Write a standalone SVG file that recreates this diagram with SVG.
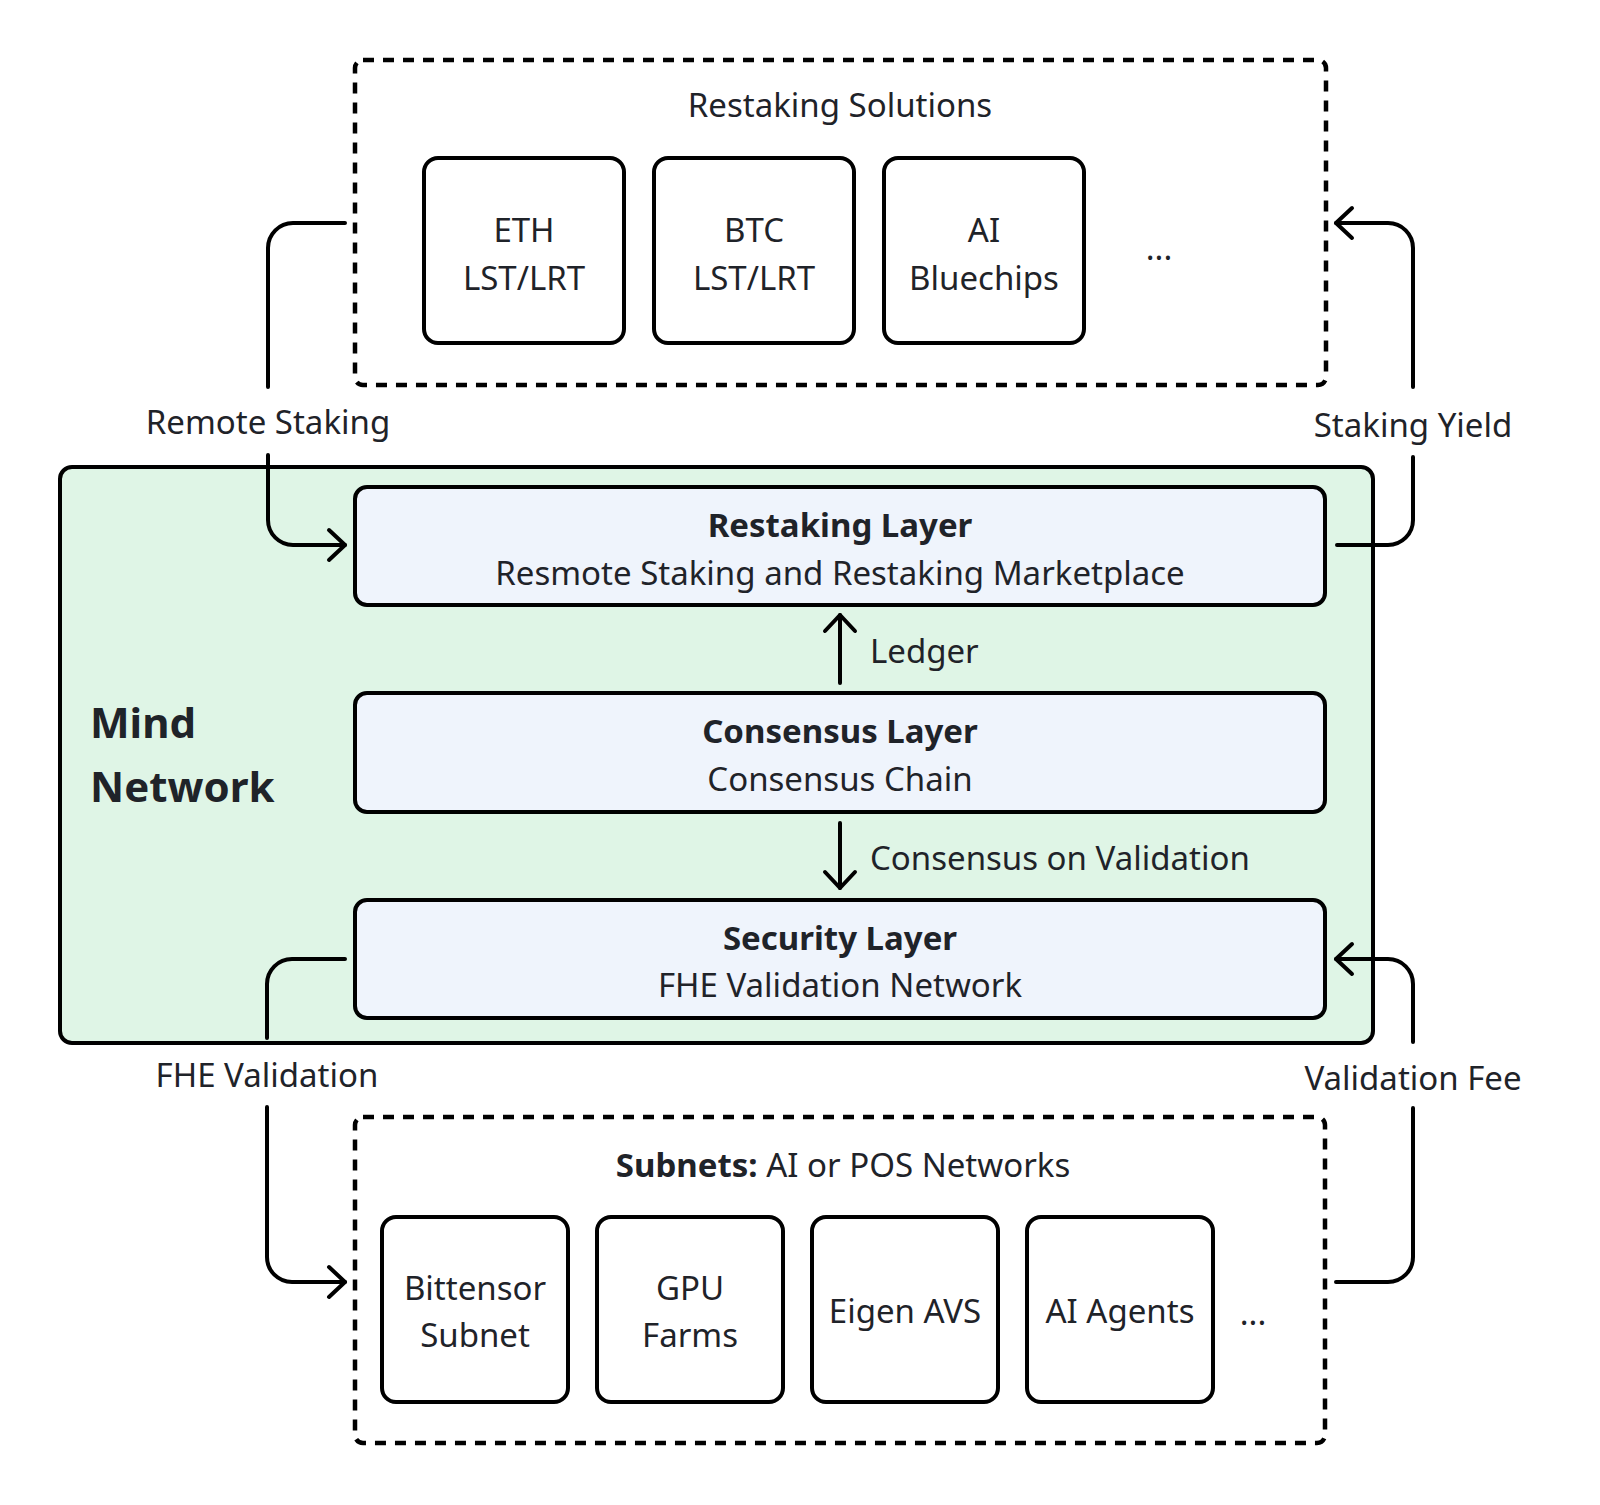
<svg xmlns="http://www.w3.org/2000/svg" width="1600" height="1505" viewBox="0 0 1600 1505">
<defs>
<style>
.t{font-family:"Noto Sans","Open Sans","DejaVu Sans",sans-serif;font-size:33px;fill:#1f2329}
.c{text-anchor:middle}
.b{font-weight:bold}
.box{fill:#ffffff;stroke:#000;stroke-width:4}
.dash{fill:none;stroke:#000;stroke-width:4.5;stroke-dasharray:11 9}
.layer{fill:#eff4fc;stroke:#000;stroke-width:4}
.main{fill:#dff5e6;stroke:#000;stroke-width:4}
.conn{fill:none;stroke:#000;stroke-width:4;stroke-linecap:round;stroke-linejoin:round}
</style>
<marker id="ah" markerUnits="userSpaceOnUse" viewBox="-20 -20 24 40" refX="0" refY="0" markerWidth="24" markerHeight="40" orient="auto">
<path d="M-16,-15 L0,0 L-16,15" fill="none" stroke="#000" stroke-width="4" stroke-linecap="round" stroke-linejoin="round"/>
</marker>
</defs>
<rect width="1600" height="1505" fill="#ffffff"/>

<g id="restaking-solutions">
<rect class="dash" x="355" y="60" width="971" height="325" rx="8"/>
<text class="t c" x="840" y="117">Restaking Solutions</text>
</g>
<g id="eth">
<rect class="box" x="424" y="158" width="200" height="185" rx="14"/>
<text class="t c" x="524" y="242">ETH</text>
<text class="t c" x="524" y="290">LST/LRT</text>
</g>
<g id="btc">
<rect class="box" x="654" y="158" width="200" height="185" rx="14"/>
<text class="t c" x="754" y="242">BTC</text>
<text class="t c" x="754" y="290">LST/LRT</text>
</g>
<g id="ai-bluechips">
<rect class="box" x="884" y="158" width="200" height="185" rx="14"/>
<text class="t c" x="984" y="242">AI</text>
<text class="t c" x="984" y="290">Bluechips</text>
</g>
<g id="top-more">
<text class="t c" x="1159" y="260">...</text>
</g>

<g id="mind-network">
<rect class="main" x="60" y="467" width="1313" height="576" rx="12"/>
<text class="t b" x="90" y="738" style="font-size:42px">Mind</text>
<text class="t b" x="90" y="802" style="font-size:42px">Network</text>
</g>
<g id="restaking-layer">
<rect class="layer" x="355" y="487" width="970" height="118" rx="12"/>
<text class="t c b" x="840" y="537">Restaking Layer</text>
<text class="t c" x="840" y="585">Resmote Staking and Restaking Marketplace</text>
</g>
<g id="consensus-layer">
<rect class="layer" x="355" y="693" width="970" height="119" rx="12"/>
<text class="t c b" x="840" y="743">Consensus Layer</text>
<text class="t c" x="840" y="791">Consensus Chain</text>
</g>
<g id="security-layer">
<rect class="layer" x="355" y="900" width="970" height="118" rx="12"/>
<text class="t c b" x="840" y="950">Security Layer</text>
<text class="t c" x="840" y="997">FHE Validation Network</text>
</g>

<g id="subnets">
<rect class="dash" x="355" y="1117" width="970" height="326" rx="8"/>
<text class="t c" x="843" y="1177"><tspan class="b">Subnets:</tspan> AI or POS Networks</text>
</g>
<g id="bittensor">
<rect class="box" x="382" y="1217" width="186" height="185" rx="14"/>
<text class="t c" x="475" y="1300">Bittensor</text>
<text class="t c" x="475" y="1347">Subnet</text>
</g>
<g id="gpu-farms">
<rect class="box" x="597" y="1217" width="186" height="185" rx="14"/>
<text class="t c" x="690" y="1300">GPU</text>
<text class="t c" x="690" y="1347">Farms</text>
</g>
<g id="eigen-avs">
<rect class="box" x="812" y="1217" width="186" height="185" rx="14"/>
<text class="t c" x="905" y="1323">Eigen AVS</text>
</g>
<g id="ai-agents">
<rect class="box" x="1027" y="1217" width="186" height="185" rx="14"/>
<text class="t c" x="1120" y="1323">AI Agents</text>
</g>
<g id="bottom-more">
<text class="t c" x="1253" y="1325">...</text>
</g>

<g id="connectors">
<path class="conn" d="M345,223 H293 A25,25 0 0 0 268,248 V387 M268,455 V520 A25,25 0 0 0 293,545 H345" marker-end="url(#ah)"/>
<text class="t c" x="268" y="434">Remote Staking</text>
<path class="conn" d="M1337,545 H1388 A25,25 0 0 0 1413,520 V457 M1413,387 V248 A25,25 0 0 0 1388,223 H1336" marker-end="url(#ah)"/>
<text class="t c" x="1413" y="437">Staking Yield</text>
<path class="conn" d="M840,683 V615" marker-end="url(#ah)"/>
<text class="t" x="870" y="663">Ledger</text>
<path class="conn" d="M840,823 V888" marker-end="url(#ah)"/>
<text class="t" x="870" y="870">Consensus on Validation</text>
<path class="conn" d="M345,959 H292 A25,25 0 0 0 267,984 V1038 M267,1107 V1257 A25,25 0 0 0 292,1282 H345" marker-end="url(#ah)"/>
<text class="t c" x="267" y="1087">FHE Validation</text>
<path class="conn" d="M1336,1282 H1388 A25,25 0 0 0 1413,1257 V1108 M1413,1042 V984 A25,25 0 0 0 1388,959 H1336" marker-end="url(#ah)"/>
<text class="t c" x="1413" y="1090">Validation Fee</text>
</g>
</svg>
